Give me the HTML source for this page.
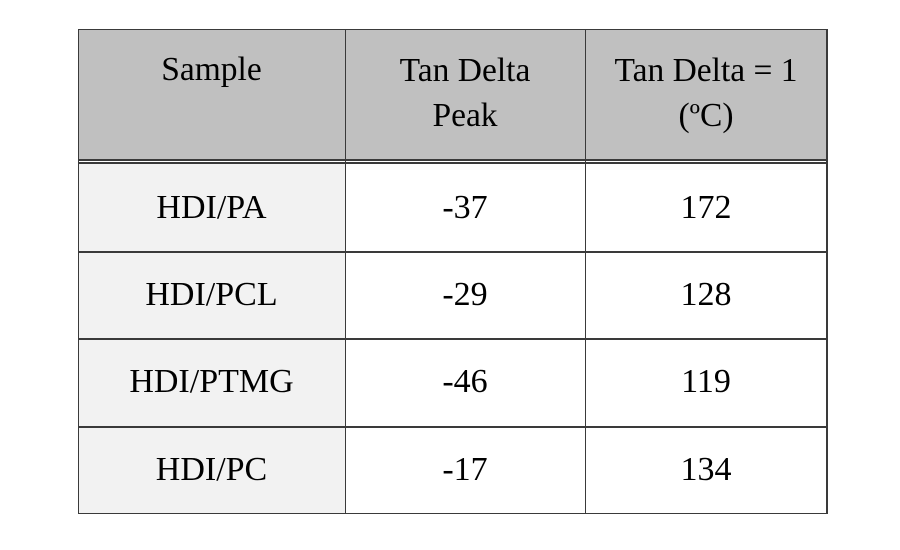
<!DOCTYPE html>
<html>
<head>
<meta charset="utf-8">
<style>
  html,body{margin:0;padding:0;background:#fff;}
  body{width:900px;height:550px;position:relative;overflow:hidden;
       font-family:"Liberation Serif","Times New Roman",serif;color:#000;}
  .bg{position:absolute;}
  .h{position:absolute;height:1.6px;background:#3a3a3a;}
  .v{position:absolute;width:1.6px;background:#3a3a3a;}
  .cell{position:absolute;display:flex;align-items:center;justify-content:center;
        font-size:34px;line-height:40px;text-align:center;}
  .hd{position:absolute;font-size:33.5px;line-height:45px;text-align:center;}
</style>
</head>
<body>
  <!-- backgrounds -->
  <div class="bg" style="left:78px;top:29px;width:750px;height:131px;background:#c0c0c0;"></div>
  <div class="bg" style="left:78px;top:163px;width:268px;height:350px;background:#f2f2f2;"></div>

  <!-- horizontal lines -->
  <div class="h" style="left:78px;top:28.5px;width:750px;"></div>
  <div class="h" style="left:78px;top:159.2px;width:750px;"></div>
  <div class="h" style="left:78px;top:162.4px;width:750px;"></div>
  <div class="h" style="left:78px;top:251.2px;width:750px;"></div>
  <div class="h" style="left:78px;top:338.3px;width:750px;"></div>
  <div class="h" style="left:78px;top:426.2px;width:750px;"></div>
  <div class="h" style="left:78px;top:512.6px;width:750px;"></div>

  <!-- vertical lines -->
  <div class="v" style="left:77.5px;top:28.5px;height:485.5px;"></div>
  <div class="v" style="left:344.8px;top:28.5px;height:485.5px;"></div>
  <div class="v" style="left:584.8px;top:28.5px;height:485.5px;"></div>
  <div class="v" style="left:826.4px;top:28.5px;height:485.5px;"></div>

  <!-- header -->
  <div class="hd" style="left:78px;top:47px;width:267px;">Sample</div>
  <div class="hd" style="left:345px;top:48px;width:240px;">Tan Delta<br>Peak</div>
  <div class="hd" style="left:585px;top:48px;width:242px;">Tan Delta = 1<br>(ºC)</div>

  <!-- rows -->
  <div class="cell" style="left:78px;top:164px;width:267px;height:88px;">HDI/PA</div>
  <div class="cell" style="left:345px;top:164px;width:240px;height:88px;">-37</div>
  <div class="cell" style="left:585px;top:164px;width:242px;height:88px;">172</div>

  <div class="cell" style="left:78px;top:252px;width:267px;height:86px;">HDI/PCL</div>
  <div class="cell" style="left:345px;top:252px;width:240px;height:86px;">-29</div>
  <div class="cell" style="left:585px;top:252px;width:242px;height:86px;">128</div>

  <div class="cell" style="left:78px;top:339px;width:267px;height:86px;">HDI/PTMG</div>
  <div class="cell" style="left:345px;top:339px;width:240px;height:86px;">-46</div>
  <div class="cell" style="left:585px;top:339px;width:242px;height:86px;">119</div>

  <div class="cell" style="left:78px;top:427px;width:267px;height:85px;">HDI/PC</div>
  <div class="cell" style="left:345px;top:427px;width:240px;height:85px;">-17</div>
  <div class="cell" style="left:585px;top:427px;width:242px;height:85px;">134</div>
</body>
</html>
